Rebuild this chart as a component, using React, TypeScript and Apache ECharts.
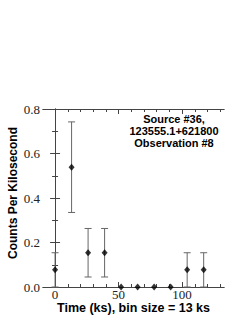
import React, { useEffect, useRef } from "react";
import * as echarts from "echarts";

const times = [0, 13, 26, 39, 52, 65, 78, 91, 104, 117];
const rates = [0.077, 0.538, 0.154, 0.154, 0, 0, 0, 0, 0.077, 0.077];
const errLow = [0, 0.335, 0.045, 0.045, 0, 0, 0, 0, 0, 0];
const errHigh = [0.154, 0.742, 0.263, 0.263, 0, 0, 0, 0, 0.154, 0.154];
const xMajorTicks = [0, 50, 100];
const xMinorTicks = [10, 20, 30, 40, 60, 70, 80, 90, 110, 120, 130];
const infoLines = ["Source #36,", "123555.1+621800", "Observation #8"];
const xTitle = "Time (ks), bin size = 13 ks";
const yTitle = "Counts Per Kilosecond";

const AXIS_COLOR = "#444";
const SERIF = "Liberation Serif";
const SANS = "Liberation Sans";

export default function App() {
  const ref = useRef<HTMLDivElement>(null);
  useEffect(() => {
    document.body.style.margin = "0";
    const chart = echarts.init(ref.current!, null, { renderer: "svg" });
    const xBase = (position: string, ticks: number[], len: number, labels: boolean) => ({
      type: "value",
      position,
      min: -9.5,
      max: 133,
      axisLine: { show: true, lineStyle: { color: AXIS_COLOR, width: 1 } },
      axisTick: {
        show: true,
        inside: true,
        length: len,
        customValues: ticks,
        lineStyle: { color: AXIS_COLOR },
      },
      axisLabel: labels
        ? {
            show: true,
            customValues: xMajorTicks,
            margin: 1,
            fontFamily: SERIF,
            fontSize: 13,
            lineHeight: 12,
            color: "#222",
          }
        : { show: false },
      splitLine: { show: false },
    });
    const yBase = (position: string, labels: boolean) => ({
      type: "value",
      position,
      min: 0,
      max: 0.8,
      interval: 0.2,
      axisLine: { show: true, lineStyle: { color: AXIS_COLOR, width: 1 } },
      axisTick: { show: true, inside: true, length: 5, lineStyle: { color: AXIS_COLOR } },
      minorTick: { show: true, splitNumber: 2, length: 3, lineStyle: { color: AXIS_COLOR } },
      axisLabel: labels
        ? {
            show: true,
            margin: 3,
            fontFamily: SERIF,
            fontSize: 13,
            color: "#222",
            formatter: (v: number) => v.toFixed(1),
          }
        : { show: false },
      splitLine: { show: false },
    });
    const errData = times.map((t, i) => [t, errLow[i], errHigh[i]]);
    chart.setOption({
      animation: false,
      grid: { left: 43, right: 25, top: 109, bottom: 36 },
      xAxis: [
        xBase("bottom", xMajorTicks, 5, true),
        xBase("bottom", xMinorTicks, 3, false),
        xBase("top", xMajorTicks, 5, false),
        xBase("top", xMinorTicks, 3, false),
      ],
      yAxis: [yBase("left", true), yBase("right", false)],
      series: [
        {
          type: "custom",
          xAxisIndex: 0,
          yAxisIndex: 0,
          data: errData,
          renderItem: (params: any, api: any) => {
            const x = api.value(0);
            const lo = api.value(1);
            const hi = api.value(2);
            if (hi === lo) return null;
            const p1 = api.coord([x, lo]);
            const p2 = api.coord([x, hi]);
            const hw = 3.5;
            const style = { stroke: "#666", lineWidth: 1 };
            return {
              type: "group",
              children: [
                { type: "line", shape: { x1: p1[0], y1: p1[1], x2: p2[0], y2: p2[1] }, style },
                { type: "line", shape: { x1: p1[0] - hw, y1: p1[1], x2: p1[0] + hw, y2: p1[1] }, style },
                { type: "line", shape: { x1: p2[0] - hw, y1: p2[1], x2: p2[0] + hw, y2: p2[1] }, style },
              ],
            };
          },
          z: 2,
        },
        {
          type: "scatter",
          xAxisIndex: 0,
          yAxisIndex: 0,
          data: times.map((t, i) => [t, rates[i]]),
          symbol: "diamond",
          symbolSize: [6, 7],
          itemStyle: { color: "#000" },
          z: 3,
        },
      ],
      graphic: [
        ...infoLines.map((line, i) => ({
          type: "text",
          x: 174,
          y: 119 + i * 12,
          style: {
            text: line,
            fontFamily: SANS,
            fontWeight: "bold",
            fontSize: 11,
            fill: "#000",
            textAlign: "center",
            textVerticalAlign: "middle",
          },
        })),
        {
          type: "text",
          x: 133.5,
          y: 308,
          style: {
            text: xTitle,
            fontFamily: SANS,
            fontWeight: "bold",
            fontSize: 12.5,
            lineHeight: 12,
            fill: "#000",
            textAlign: "center",
            textVerticalAlign: "middle",
          },
        },
        {
          type: "text",
          x: 13,
          y: 193,
          rotation: Math.PI / 2,
          style: {
            text: yTitle,
            fontFamily: SANS,
            fontWeight: "bold",
            fontSize: 12,
            fill: "#000",
            textAlign: "center",
            textVerticalAlign: "middle",
          },
        },
      ],
    });
    return () => chart.dispose();
  }, []);
  return <div ref={ref} style={{ width: 249, height: 323 }} />;
}
